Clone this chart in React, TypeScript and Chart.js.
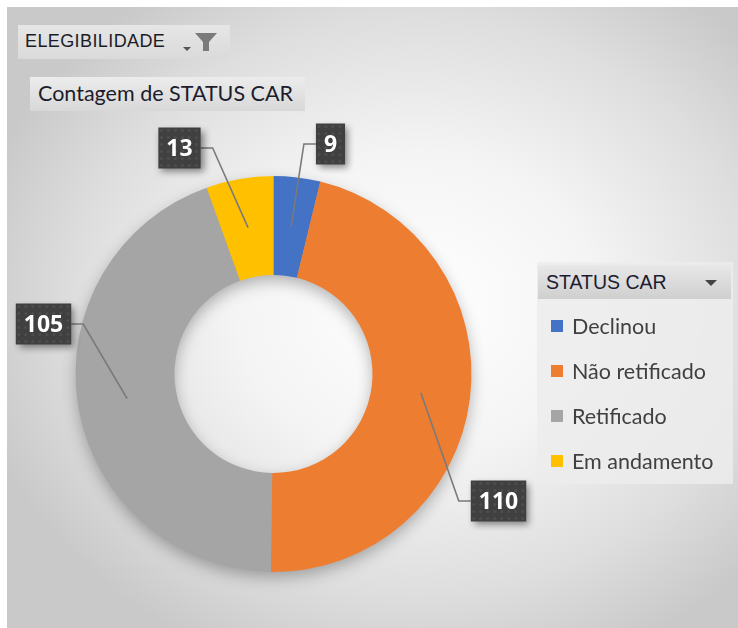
import React, { useEffect, useRef } from "react";
import { Chart, registerables } from "chart.js";

Chart.register(...registerables);

// ---- data ----
const categories = ["Declinou", "Não retificado", "Retificado", "Em andamento"];
const counts = [9, 110, 105, 13];
const colors = ["#4472C4", "#ED7D31", "#A5A5A5", "#FFC000"];
const legendTitle = "STATUS CAR";
const filterLabel = "ELEGIBILIDADE";
const valueFieldLabel = "Contagem de STATUS CAR";

// ---- layout (label box centres relative to the doughnut centre) ----
const labelOffsets: [number, number][] = [
  [57, -230],
  [225, 127],
  [-230, -50],
  [-94, -226],
];

const CANVAS_LEFT = 7;
const CANVAS_TOP = 7;
const CANVAS_W = 731;
const CANVAS_H = 621;

const ringShadow = {
  id: "ringShadow",
  beforeDatasetsDraw(chart: any) {
    const meta = chart.getDatasetMeta(0);
    const arc = meta.data[0];
    if (!arc) return;
    const { x, y, outerRadius, innerRadius } = arc.getProps(
      ["x", "y", "outerRadius", "innerRadius"],
      true
    );
    const ctx = chart.ctx;
    ctx.save();
    ctx.shadowColor = "rgba(0,0,0,0.30)";
    ctx.shadowBlur = 16;
    ctx.shadowOffsetY = 6;
    ctx.beginPath();
    ctx.arc(x, y, outerRadius - 1, 0, Math.PI * 2);
    ctx.arc(x, y, innerRadius + 1, 0, Math.PI * 2, true);
    ctx.fillStyle = "#a0a0a0";
    ctx.fill();
    ctx.restore();
  },
};

const boxLabels = {
  id: "boxLabels",
  afterDatasetsDraw(chart: any) {
    const ctx = chart.ctx;
    const meta = chart.getDatasetMeta(0);
    const font = 'bold 23px "Open Sans", "Liberation Sans", sans-serif';
    const items = meta.data.map((arc: any, i: number) => {
      const p = arc.tooltipPosition(true);
      const { x: cx, y: cy } = arc.getProps(["x", "y"], true);
      const bx = cx + labelOffsets[i][0];
      const by = cy + labelOffsets[i][1];
      const text = String(counts[i]);
      ctx.font = font;
      const tw = ctx.measureText(text).width;
      const w = tw + 16;
      const h = 41;
      return { p, bx, by, text, w, h };
    });
    // leader lines
    ctx.save();
    ctx.strokeStyle = "#7a7a7a";
    ctx.lineWidth = 1.6;
    items.forEach((it: any) => {
      const leftSide = it.p.x < it.bx;
      const edgeX = leftSide ? it.bx - it.w / 2 : it.bx + it.w / 2;
      const elbowX = leftSide ? edgeX - 12 : edgeX + 12;
      ctx.beginPath();
      ctx.moveTo(it.p.x, it.p.y);
      ctx.lineTo(elbowX, it.by);
      ctx.lineTo(edgeX, it.by);
      ctx.stroke();
    });
    ctx.restore();
    // boxes
    items.forEach((it: any) => {
      const l = it.bx - it.w / 2;
      const t = it.by - it.h / 2;
      ctx.save();
      ctx.shadowColor = "rgba(0,0,0,0.45)";
      ctx.shadowBlur = 7;
      ctx.shadowOffsetX = 3;
      ctx.shadowOffsetY = 3;
      ctx.fillStyle = "#404040";
      ctx.fillRect(l, t, it.w, it.h);
      ctx.restore();
      // subtle dotted texture
      ctx.save();
      ctx.beginPath();
      ctx.rect(l, t, it.w, it.h);
      ctx.clip();
      ctx.fillStyle = "rgba(255,255,255,0.07)";
      for (let yy = t + 3; yy < t + it.h; yy += 7) {
        for (let xx = l + 3; xx < l + it.w; xx += 7) {
          ctx.beginPath();
          ctx.arc(xx, yy, 1.6, 0, Math.PI * 2);
          ctx.fill();
        }
      }
      ctx.restore();
      ctx.save();
      ctx.font = font;
      ctx.fillStyle = "#ffffff";
      ctx.textAlign = "center";
      ctx.textBaseline = "middle";
      ctx.fillText(it.text, it.bx, it.by + 1);
      ctx.restore();
    });
  },
};

export default function App() {
  const canvasRef = useRef<HTMLCanvasElement | null>(null);

  useEffect(() => {
    if (!canvasRef.current) return;
    const chart = new Chart(canvasRef.current, {
      type: "doughnut",
      data: {
        labels: categories,
        datasets: [
          {
            data: counts,
            backgroundColor: colors,
            borderWidth: 0,
          },
        ],
      },
      options: {
        responsive: false,
        animation: false,
        cutout: "50%",
        events: [],
        layout: {
          padding: { left: 68, right: 266, top: 169, bottom: 56 },
        },
        plugins: {
          legend: { display: false },
          tooltip: { enabled: false },
        },
      },
      plugins: [ringShadow, boxLabels],
    });
    return () => chart.destroy();
  }, []);

  const calibri = '"Lato", "Open Sans", sans-serif';
  const tahoma = '"Liberation Sans", "DejaVu Sans", sans-serif';

  return (
    <div
      style={{
        position: "fixed",
        left: 0,
        top: 0,
        width: 738,
        height: 628,
        overflow: "hidden",
        background: "#ffffff",
      }}
    >
      <div
        style={{
          position: "absolute",
          left: CANVAS_LEFT,
          top: CANVAS_TOP,
          width: CANVAS_W,
          height: CANVAS_H,
          background:
            "radial-gradient(ellipse 62% 62% at 56% 48%, #ffffff 0%, #f4f4f4 40%, #dedede 75%, #c9c9c9 100%)",
        }}
      />
      <canvas
        ref={canvasRef}
        width={CANVAS_W}
        height={CANVAS_H}
        style={{ position: "absolute", left: CANVAS_LEFT, top: CANVAS_TOP }}
      />
      {/* filter button */}
      <div
        style={{
          position: "absolute",
          left: 18,
          top: 25,
          width: 212,
          height: 34,
          background: "linear-gradient(#e6e6e6, #dadada)",
          boxSizing: "border-box",
        }}
      >
        <span
          style={{
            position: "absolute",
            left: 7,
            top: 6,
            fontFamily: tahoma,
            fontSize: 18,
            color: "#1c1c28",
            letterSpacing: 0.4,
            whiteSpace: "nowrap",
          }}
        >
          {filterLabel}
        </span>
        <svg
          width="40"
          height="24"
          style={{ position: "absolute", left: 163, top: 6 }}
        >
          <polygon points="2,16 10,16 6,20" fill="#555" />
          <polygon points="14,2 36,2 28,11 28,20 22,20 22,11" fill="#7a7a7a" />
        </svg>
      </div>
      {/* value field button */}
      <div
        style={{
          position: "absolute",
          left: 30,
          top: 77,
          width: 275,
          height: 34,
          background: "linear-gradient(#ececec, #d8d8d8)",
        }}
      >
        <span
          style={{
            position: "absolute",
            left: 8,
            top: 3,
            fontFamily: calibri,
            fontSize: 21.5,
            color: "#1c1c2c",
            whiteSpace: "nowrap",
          }}
        >
          {valueFieldLabel}
        </span>
      </div>
      {/* legend */}
      <div
        style={{
          position: "absolute",
          left: 537,
          top: 262,
          width: 196,
          height: 222,
          background: "rgba(236,236,236,0.85)",
        }}
      >
        <div
          style={{
            position: "absolute",
            left: 1,
            top: 3,
            width: 193,
            height: 34,
            background: "linear-gradient(#e8e8e8, #cfcfcf)",
          }}
        >
          <span
            style={{
              position: "absolute",
              left: 8,
              top: 6,
              fontFamily: tahoma,
              fontSize: 19.5,
              color: "#1c1c30",
              whiteSpace: "nowrap",
            }}
          >
            {legendTitle}
          </span>
          <svg
            width="14"
            height="10"
            style={{ position: "absolute", left: 166, top: 13 }}
          >
            <polygon points="1,2 13,2 7,8" fill="#444" />
          </svg>
        </div>
        {categories.map((c, i) => (
          <div
            key={c}
            style={{
              position: "absolute",
              left: 14,
              top: 51 + i * 45,
              height: 26,
              display: "flex",
              alignItems: "center",
              whiteSpace: "nowrap",
            }}
          >
            <div
              style={{
                width: 12,
                height: 12,
                background: colors[i],
                marginRight: 9,
              }}
            />
            <span
              style={{ fontFamily: calibri, fontSize: 21.5, color: "#404040" }}
            >
              {c}
            </span>
          </div>
        ))}
      </div>
    </div>
  );
}
